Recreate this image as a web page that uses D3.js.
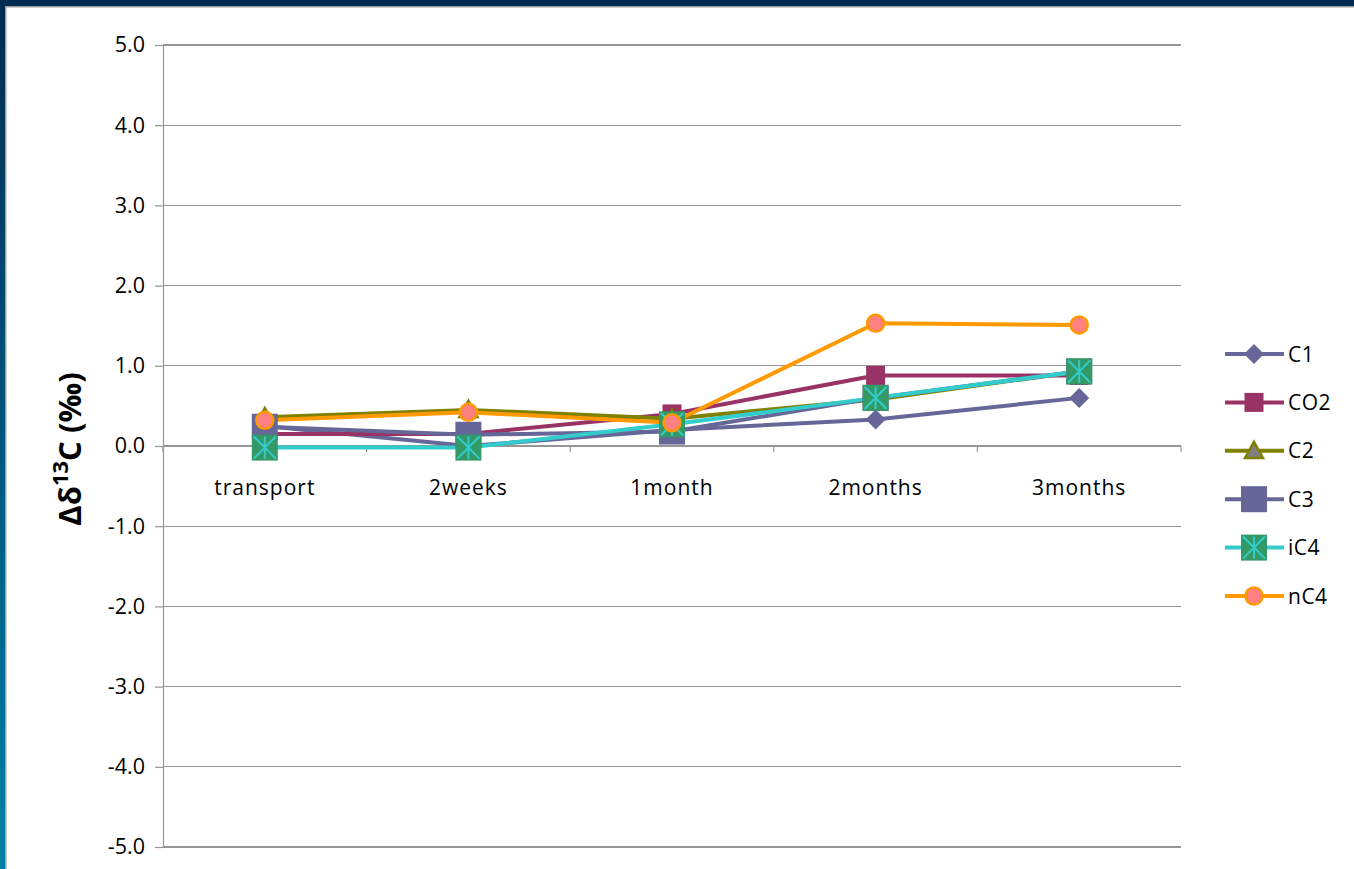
<!DOCTYPE html>
<html><head><meta charset="utf-8">
<script src="https://cdn.jsdelivr.net/npm/d3@7"></script>
<style>
html,body{margin:0;padding:0;background:#fff;}
svg{display:block;}
text{font-family:"Open Sans","Noto Sans",sans-serif;}
</style></head>
<body>
<svg id="c" width="1354" height="869"></svg>
<script>
const categories = ["transport","2weeks","1month","2months","3months"];
const yTicks = [5,4,3,2,1,0,-1,-2,-3,-4,-5];
const seriesNames = ["C1","CO2","C2","C3","iC4","nC4"];
const C1  = [0.25, 0.00, 0.20, 0.33, 0.60];
const CO2 = [0.15, 0.15, 0.40, 0.88, 0.88];
const C2  = [0.36, 0.45, 0.34, 0.58, 0.93];
const C3  = [0.24, 0.14, 0.18, 0.60, 0.93];
const iC4 = [-0.02, -0.02, 0.27, 0.60, 0.93];
const nC4 = [0.32, 0.42, 0.29, 1.53, 1.51];
const seriesValues = [C1, CO2, C2, C3, iC4, nC4];

const styles = {
  C1:  {line:"#666699", marker:"diamond", fill:"#666699", stroke:"#666699", size:20},
  CO2: {line:"#993366", marker:"square",  fill:"#993366", stroke:"#993366", size:19},
  C2:  {line:"#808000", marker:"triangle",fill:"#808080", stroke:"#808000", size:18},
  C3:  {line:"#666699", marker:"square",  fill:"#666699", stroke:"#666699", size:26},
  iC4: {line:"#33CCCC", marker:"star",    fill:"#339966", stroke:"#33CCCC", size:26},
  nC4: {line:"#FF9900", marker:"circle",  fill:"#FF8080", stroke:"#FF9900", size:19}
};

const svg = d3.select("#c");
// frame
const defs = svg.append("defs");
const g1 = defs.append("linearGradient").attr("id","lg").attr("x1",0).attr("y1",0).attr("x2",0).attr("y2",1);
g1.append("stop").attr("offset","0%").attr("stop-color","#002B52");
g1.append("stop").attr("offset","100%").attr("stop-color","#0080A8");
svg.append("rect").attr("x",0).attr("y",0).attr("width",6).attr("height",869).attr("fill","url(#lg)");
svg.append("rect").attr("x",5).attr("y",6).attr("width",1.5).attr("height",863).attr("fill","#a0a0a0");
svg.append("rect").attr("x",0).attr("y",0).attr("width",1354).attr("height",6).attr("fill","#002B52");
svg.append("rect").attr("x",5).attr("y",6).attr("width",1349).attr("height",1.5).attr("fill","#a0a0a0");

const pLeft=163, pRight=1181, pTop=45, pBottom=847;
const x = d3.scaleBand().domain(categories).range([pLeft,pRight]);
const y = d3.scaleLinear().domain([-5,5]).range([pBottom,pTop]);

// gridlines
svg.append("g").selectAll("line").data(yTicks).join("line")
  .attr("x1",pLeft).attr("x2",pRight).attr("y1",d=>y(d)).attr("y2",d=>y(d))
  .attr("stroke","#969696").attr("stroke-width",1.2).attr("shape-rendering","crispEdges");

// y axis
const fmt = d => d3.format(".1f")(d).replace("−","-");
const yAxis = d3.axisLeft(y).tickValues(yTicks).tickFormat(fmt).tickSize(8).tickPadding(10);
const ya = svg.append("g").attr("transform",`translate(${pLeft},0)`).call(yAxis);
ya.select(".domain").attr("stroke","#969696").attr("stroke-width",1.2);
ya.selectAll(".tick line").attr("stroke","#969696").attr("stroke-width",1.2);
ya.selectAll(".tick text").attr("font-size",21.5).attr("fill","#000").attr("font-family","Open Sans");

// x axis at zero
const bounds = d3.range(categories.length+1).map(i=>pLeft + i*x.step());
svg.append("g").selectAll("line").data(bounds).join("line")
  .attr("x1",d=>d).attr("x2",d=>d).attr("y1",y(0)).attr("y2",y(0)+6)
  .attr("stroke","#969696").attr("stroke-width",1.2);
svg.append("g").selectAll("text").data(categories).join("text")
  .attr("x",d=>x(d)+x.bandwidth()/2).attr("y",y(0)+49)
  .attr("text-anchor","middle").attr("font-size",21).attr("letter-spacing","1px").text(d=>d);

// y title
svg.append("text").attr("transform",`translate(81,${y(0)+3}) rotate(-90)`)
  .attr("text-anchor","middle").attr("font-weight","bold").attr("font-size",31)
  .html('Δδ<tspan dy="-13" font-size="22">13</tspan><tspan dy="13">C (‰)</tspan>');

// lines
const line = d3.line().x((d,i)=>x(categories[i])+x.bandwidth()/2).y(d=>y(d));
seriesNames.forEach((n,k)=>{
  svg.append("path").datum(seriesValues[k]).attr("d",line)
    .attr("fill","none").attr("stroke",styles[n].line).attr("stroke-width",4).attr("stroke-linejoin","round");
});

function drawMarker(g, n, cx, cy){
  const s = styles[n], h = s.size/2;
  if(s.marker==="diamond"){
    g.append("path").attr("d",`M${cx},${cy-h}L${cx+h},${cy}L${cx},${cy+h}L${cx-h},${cy}Z`).attr("fill",s.fill);
  } else if(s.marker==="square"){
    g.append("rect").attr("x",cx-h).attr("y",cy-h).attr("width",s.size).attr("height",s.size).attr("fill",s.fill);
  } else if(s.marker==="triangle"){
    g.append("path").attr("d",`M${cx},${cy-h}L${cx+h},${cy+h*0.8}L${cx-h},${cy+h*0.8}Z`)
      .attr("fill",s.fill).attr("stroke",s.stroke).attr("stroke-width",2.5);
  } else if(s.marker==="star"){
    g.append("rect").attr("x",cx-h).attr("y",cy-h).attr("width",s.size).attr("height",s.size).attr("fill",s.fill);
    const r=h*0.85;
    g.append("path").attr("d",`M${cx-r},${cy-r}L${cx+r},${cy+r}M${cx+r},${cy-r}L${cx-r},${cy+r}M${cx},${cy-r}L${cx},${cy+r}`)
      .attr("stroke",s.stroke).attr("stroke-width",2);
  } else if(s.marker==="circle"){
    g.append("circle").attr("cx",cx).attr("cy",cy).attr("r",h-1).attr("fill",s.fill).attr("stroke",s.stroke).attr("stroke-width",2.5);
  }
}
const mg = svg.append("g");
seriesNames.forEach((n,k)=>{
  seriesValues[k].forEach((v,i)=>drawMarker(mg,n,x(categories[i])+x.bandwidth()/2,y(v)));
});

// legend
const legY = d3.scaleLinear().domain([0,5]).range([354,596]);
const lg = svg.append("g");
seriesNames.forEach((n,k)=>{
  const ly = legY(k);
  lg.append("line").attr("x1",1225).attr("x2",1284).attr("y1",ly).attr("y2",ly)
    .attr("stroke",styles[n].line).attr("stroke-width",4);
  drawMarker(lg,n,1254,ly);
  lg.append("text").attr("x",1288).attr("y",ly+7.5).attr("font-size",21).attr("letter-spacing","0.5px").text(n);
});
</script>
</body></html>
